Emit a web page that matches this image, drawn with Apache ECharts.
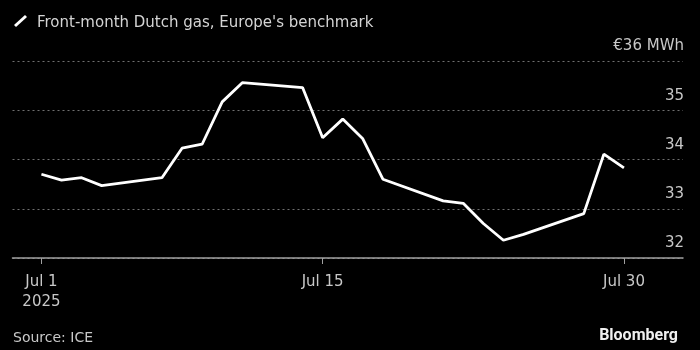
<!DOCTYPE html>
<html>
<head>
<meta charset="utf-8">
<script src="https://cdn.jsdelivr.net/npm/echarts@6/dist/echarts.min.js"></script>
<style>
  html, body { margin: 0; padding: 0; background: #000; }
  #main { width: 700px; height: 350px; }
</style>
</head>
<body>
<div id="main"></div>
<script>
// trading days, July 2025
const dates = [
  '2025-07-01', '2025-07-02', '2025-07-03', '2025-07-04',
  '2025-07-07', '2025-07-08', '2025-07-09', '2025-07-10', '2025-07-11',
  '2025-07-14', '2025-07-15', '2025-07-16', '2025-07-17', '2025-07-18',
  '2025-07-21', '2025-07-22', '2025-07-23', '2025-07-24', '2025-07-25',
  '2025-07-28', '2025-07-29', '2025-07-30'
]
// €/MWh
const prices = [
  33.70, 33.58, 33.63, 33.47,
  33.63, 34.23, 34.31, 35.17, 35.56,
  35.46, 34.44, 34.82, 34.42, 33.60,
  33.16, 33.11, 32.70, 32.36, 32.48,
  32.90, 34.11, 33.83
]
const tickDates = ['2025-07-01', '2025-07-15', '2025-07-30']
const months = ['Jan', 'Feb', 'Mar', 'Apr', 'May', 'Jun', 'Jul', 'Aug', 'Sep', 'Oct', 'Nov', 'Dec']

const day = 24 * 3600 * 1000
const ts = s => new Date(s + 'T00:00:00').getTime()

const textColor = '#c8c8c8'
const font = 'DejaVu Sans'

const option = {
  backgroundColor: '#000',
  animation: false,
  title: {
    text: "Front-month Dutch gas, Europe's benchmark",
    left: 32,
    top: 11,
    textStyle: { color: '#d4d4d4', fontFamily: font, fontSize: 15, fontWeight: 'normal' }
  },
  graphic: [
    {
      type: 'line',
      shape: { x1: 15, y1: 26, x2: 26, y2: 16 },
      style: { stroke: '#fff', lineWidth: 3 }
    },
    {
      type: 'text',
      left: 13,
      top: 331,
      style: { text: 'Source: ICE', fill: textColor, font: '14px "DejaVu Sans"' }
    },
    {
      type: 'text',
      right: 22,
      top: 328,
      style: { text: 'Bloomberg', fill: '#f0f0f0', font: 'bold 16px "Roboto"' }
    }
  ],
  grid: { left: 12.5, right: 17, top: 61, bottom: 92 },
  xAxis: {
    type: 'value',
    min: ts('2025-07-01') - 1.44 * day,
    max: ts('2025-07-30') + 2.94 * day,
    axisLine: { lineStyle: { color: '#a0a0a0', width: 1.5 } },
    axisTick: {
      length: 6,
      customValues: tickDates.map(ts),
      lineStyle: { color: '#a0a0a0' }
    },
    axisLabel: {
      customValues: tickDates.map(ts),
      margin: 14,
      color: textColor,
      fontFamily: font,
      fontSize: 15,
      lineHeight: 20,
      formatter: v => {
        const d = new Date(v)
        const s = months[d.getMonth()] + ' ' + d.getDate()
        return d.getDate() === 1 ? s + '\n' + d.getFullYear() : s
      }
    },
    splitLine: { show: false }
  },
  yAxis: {
    type: 'value',
    position: 'right',
    min: 32,
    max: 36,
    interval: 1,
    axisLine: { show: false },
    axisTick: { show: false },
    axisLabel: {
      inside: true,
      margin: -1,
      color: textColor,
      fontFamily: font,
      fontSize: 15,
      lineHeight: 15,
      verticalAlign: 'bottom',
      padding: [0, 0, 7, 0],
      formatter: v => v === 36 ? '€36 MWh' : String(v)
    },
    splitLine: { lineStyle: { color: '#707070', type: [2, 3], width: 1 } }
  },
  series: [
    {
      type: 'line',
      data: dates.map((d, i) => [ts(d), prices[i]]),
      showSymbol: false,
      lineStyle: { color: '#fff', width: 2.8 }
    }
  ]
}

echarts.init(document.getElementById('main')).setOption(option)
</script>
</body>
</html>
